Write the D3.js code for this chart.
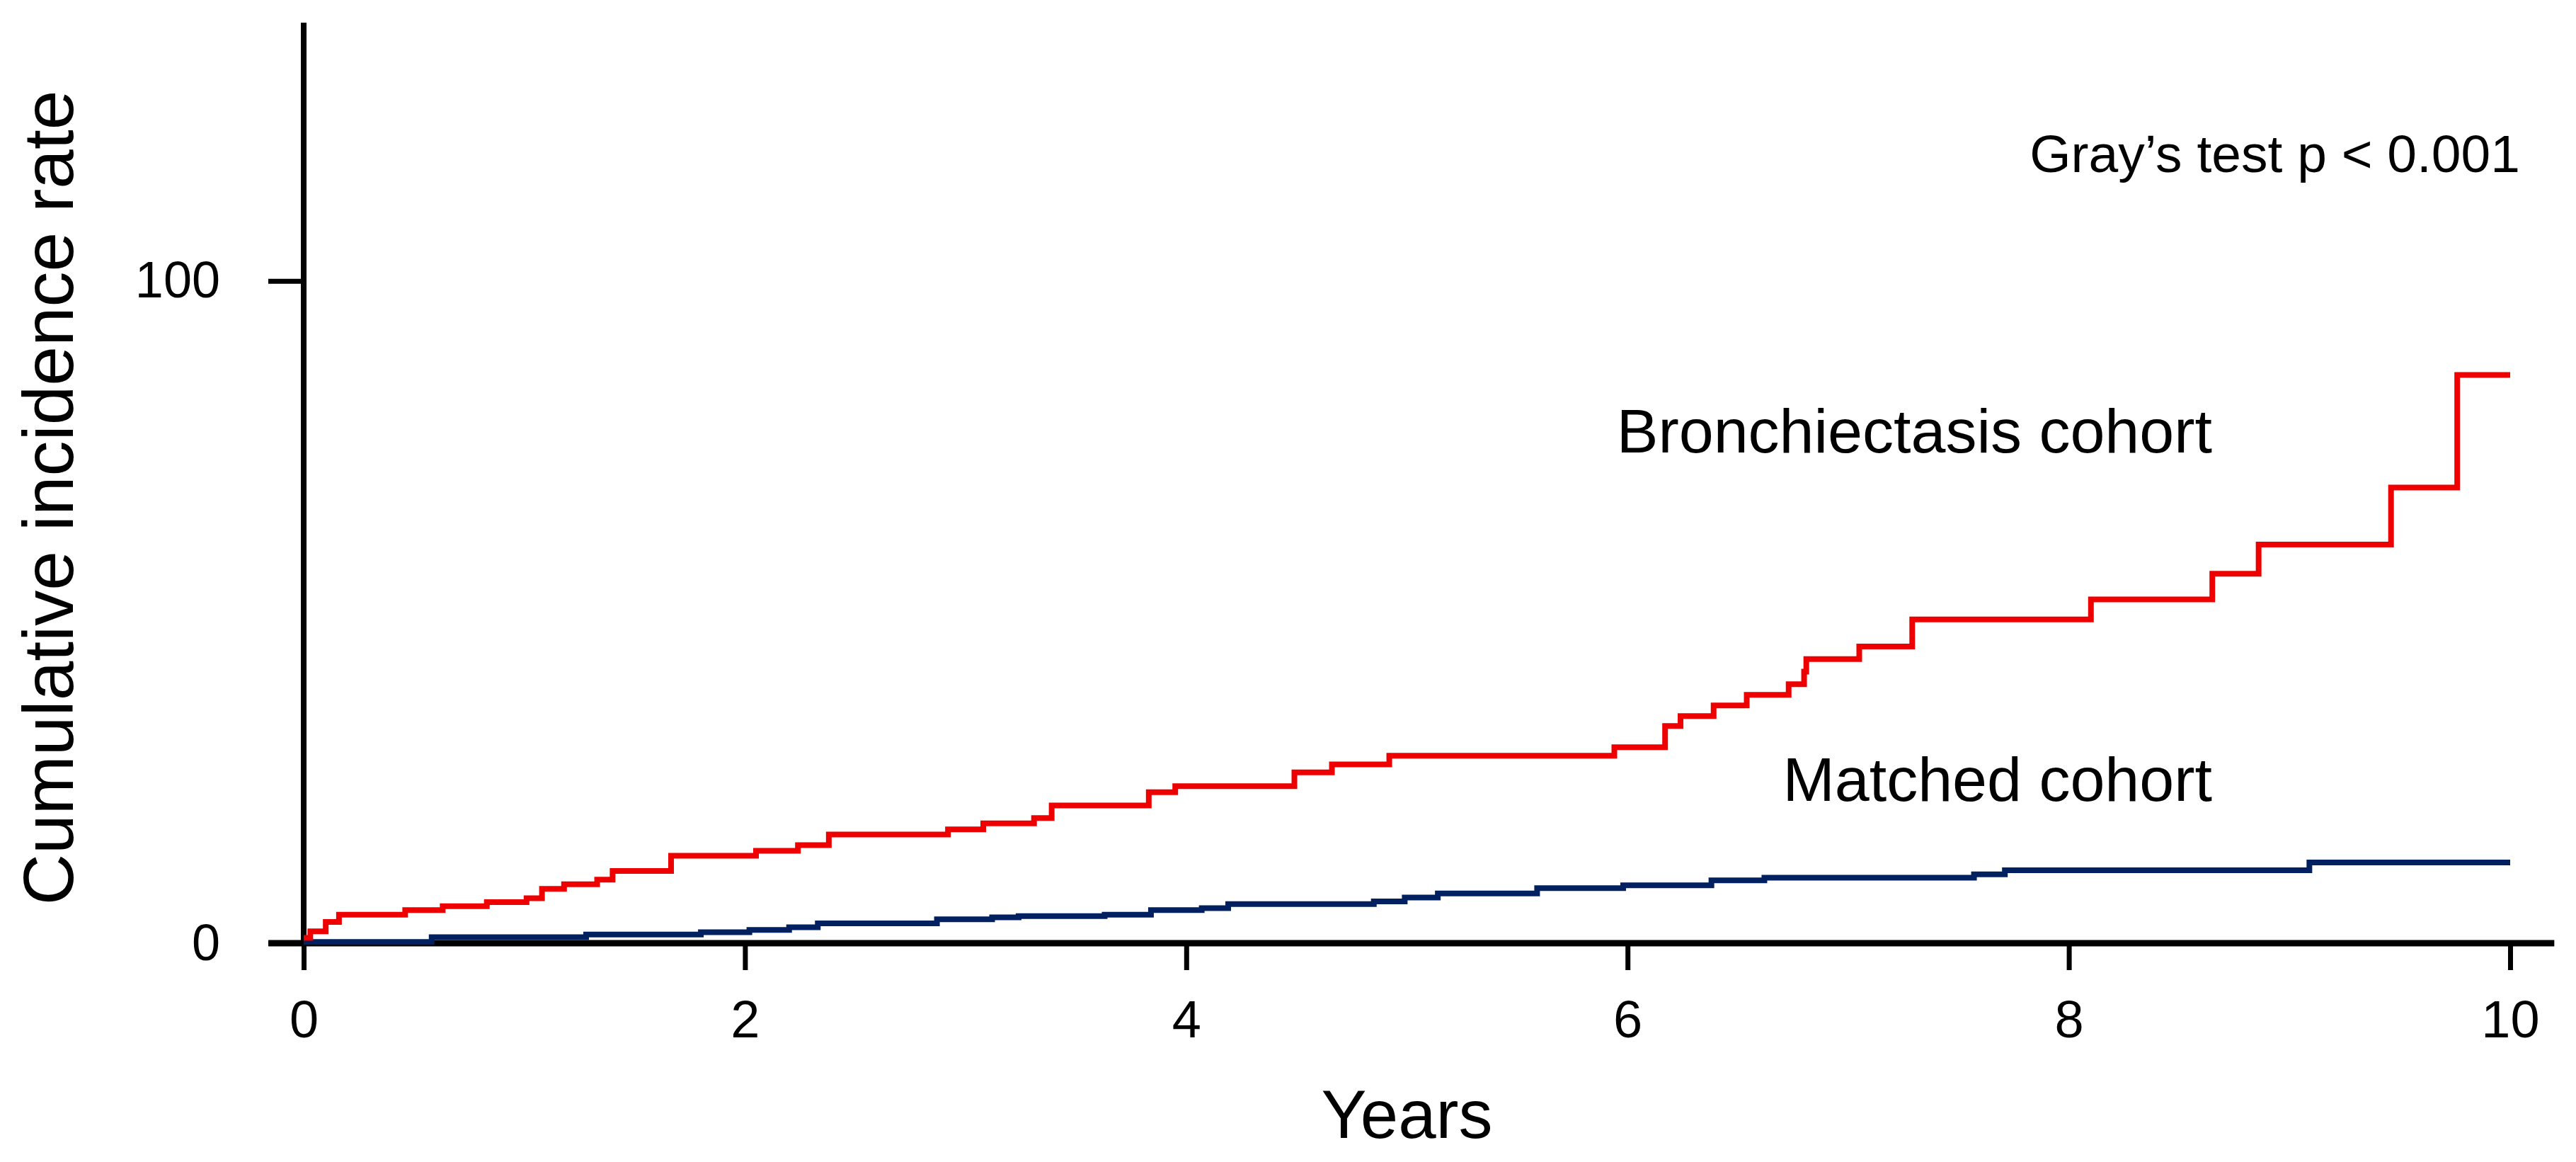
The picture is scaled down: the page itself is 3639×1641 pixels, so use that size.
<!DOCTYPE html>
<html>
<head>
<meta charset="utf-8">
<script src="https://cdn.jsdelivr.net/npm/d3@7"></script>
<style>
  body { margin: 0; background: #fff; }
  text { font-family: "Liberation Sans", Arial, sans-serif; }
</style>
</head>
<body>
<div class="chart"></div>
<script>
// step curve data (years, cumulative incidence)
var bronchTime = [0, 0.03, 0.1, 0.16, 0.46, 0.63, 0.83, 1.01, 1.08, 1.18, 1.33, 1.40, 1.665,
                  2.05, 2.24, 2.38, 2.92, 3.08, 3.31, 3.39, 3.83, 3.95, 4.49, 4.66, 4.92,
                  5.94, 6.17, 6.24, 6.39, 6.54, 6.73, 6.80, 6.81, 7.05, 7.29, 8.10, 8.65,
                  8.86, 9.46, 9.76, 10];
var bronchRate = [0.8, 1.8, 3.2, 4.3, 5.0, 5.6, 6.2, 6.8, 8.2, 8.9, 9.6, 10.9, 13.2,
                  13.95, 14.8, 16.4, 17.2, 18.1, 18.9, 20.8, 22.8, 23.7, 25.8, 27.0, 28.3,
                  29.6, 32.8, 34.3, 35.9, 37.5, 39.1, 41.0, 42.9, 44.8, 48.9, 51.9, 55.8,
                  60.2, 68.8, 85.8, 85.8];

var matchedTime = [0, 0.58, 1.28, 1.80, 2.02, 2.20, 2.33, 2.87, 3.12, 3.24, 3.63, 3.84,
                   4.07, 4.19, 4.85, 4.99, 5.14, 5.59, 5.98, 6.38, 6.62, 7.57, 7.71, 9.09, 10];
var matchedRate = [0.2, 0.9, 1.3, 1.65, 2.0, 2.4, 3.0, 3.6, 3.9, 4.1, 4.3, 5.0,
                   5.3, 5.9, 6.3, 6.9, 7.5, 8.3, 8.75, 9.5, 9.9, 10.4, 11.0, 12.2, 12.2];

var xTicks = [0, 2, 4, 6, 8, 10];
var yTicks = [0, 100];

var width = 3639, height = 1641;
var margin = {top: 32, right: 93, bottom: 309, left: 429};

var svg = d3.select(".chart")
  .append("svg")
    .attr("width", width)
    .attr("height", height);

var x = d3.scaleLinear()
  .domain([0, 10])
  .range([margin.left, width - margin.right]);

var y = d3.scaleLinear()
  .domain([0, 139])
  .range([height - margin.bottom, margin.top]);

// x axis
var xaxis = d3.axisBottom(x)
  .tickValues(xTicks)
  .tickSize(38)
  .tickSizeOuter(0)
  .tickPadding(42);

var gx = svg.append("g")
  .attr("class", "x axis")
  .attr("transform", "translate(0," + y(0) + ")")
  .call(xaxis);
gx.select(".domain").remove();
gx.selectAll(".tick line").attr("stroke", "#000").attr("stroke-width", 7);
gx.selectAll(".tick text")
  .attr("fill", "#000")
  .style("font-size", "74px");
gx.append("line")
  .attr("x1", x(-0.16))
  .attr("x2", x(10.2))
  .attr("stroke", "#000")
  .attr("stroke-width", 9);

// y axis
var yaxis = d3.axisLeft(y)
  .tickValues(yTicks)
  .tickSize(50)
  .tickSizeOuter(0)
  .tickPadding(68);

var gy = svg.append("g")
  .attr("class", "y axis")
  .attr("transform", "translate(" + x(0) + ",0)")
  .call(yaxis);
gy.select(".domain").remove();
gy.selectAll(".tick line").attr("stroke", "#000").attr("stroke-width", 7);
gy.selectAll(".tick text")
  .attr("fill", "#000")
  .style("font-size", "72px");
gy.append("line")
  .attr("y1", y(139))
  .attr("y2", y(0))
  .attr("stroke", "#000")
  .attr("stroke-width", 8);

// curves
var line = d3.line()
  .x(function(d) { return x(d[0]); })
  .y(function(d) { return y(d[1]); })
  .curve(d3.curveStepAfter);

var series = [
  {name: "Matched cohort", color: "#002060", pts: d3.zip(matchedTime, matchedRate)},
  {name: "Bronchiectasis cohort", color: "#ee0000", pts: d3.zip(bronchTime, bronchRate)}
];

svg.selectAll(".curve")
  .data(series)
  .enter()
  .append("path")
    .attr("class", "curve")
    .attr("fill", "none")
    .attr("stroke", function(d) { return d.color; })
    .attr("stroke-width", 8)
    .attr("d", function(d) { return line(d.pts); });

// labels
svg.append("text")
  .attr("x", 3125)
  .attr("y", 639)
  .attr("text-anchor", "end")
  .style("font-size", "88px")
  .text("Bronchiectasis cohort");

svg.append("text")
  .attr("x", 3125)
  .attr("y", 1131)
  .attr("text-anchor", "end")
  .style("font-size", "88px")
  .text("Matched cohort");

svg.append("text")
  .attr("x", 3560)
  .attr("y", 243)
  .attr("text-anchor", "end")
  .style("font-size", "75px")
  .text("Gray\u2019s test p < 0.001");

svg.append("text")
  .attr("x", x(5))
  .attr("y", 1607)
  .attr("text-anchor", "middle")
  .style("font-size", "96px")
  .text("Years");

svg.append("text")
  .attr("transform", "translate(103," + 703 + ") rotate(-90)")
  .attr("text-anchor", "middle")
  .style("font-size", "100px")
  .text("Cumulative incidence rate");
</script>
</body>
</html>
